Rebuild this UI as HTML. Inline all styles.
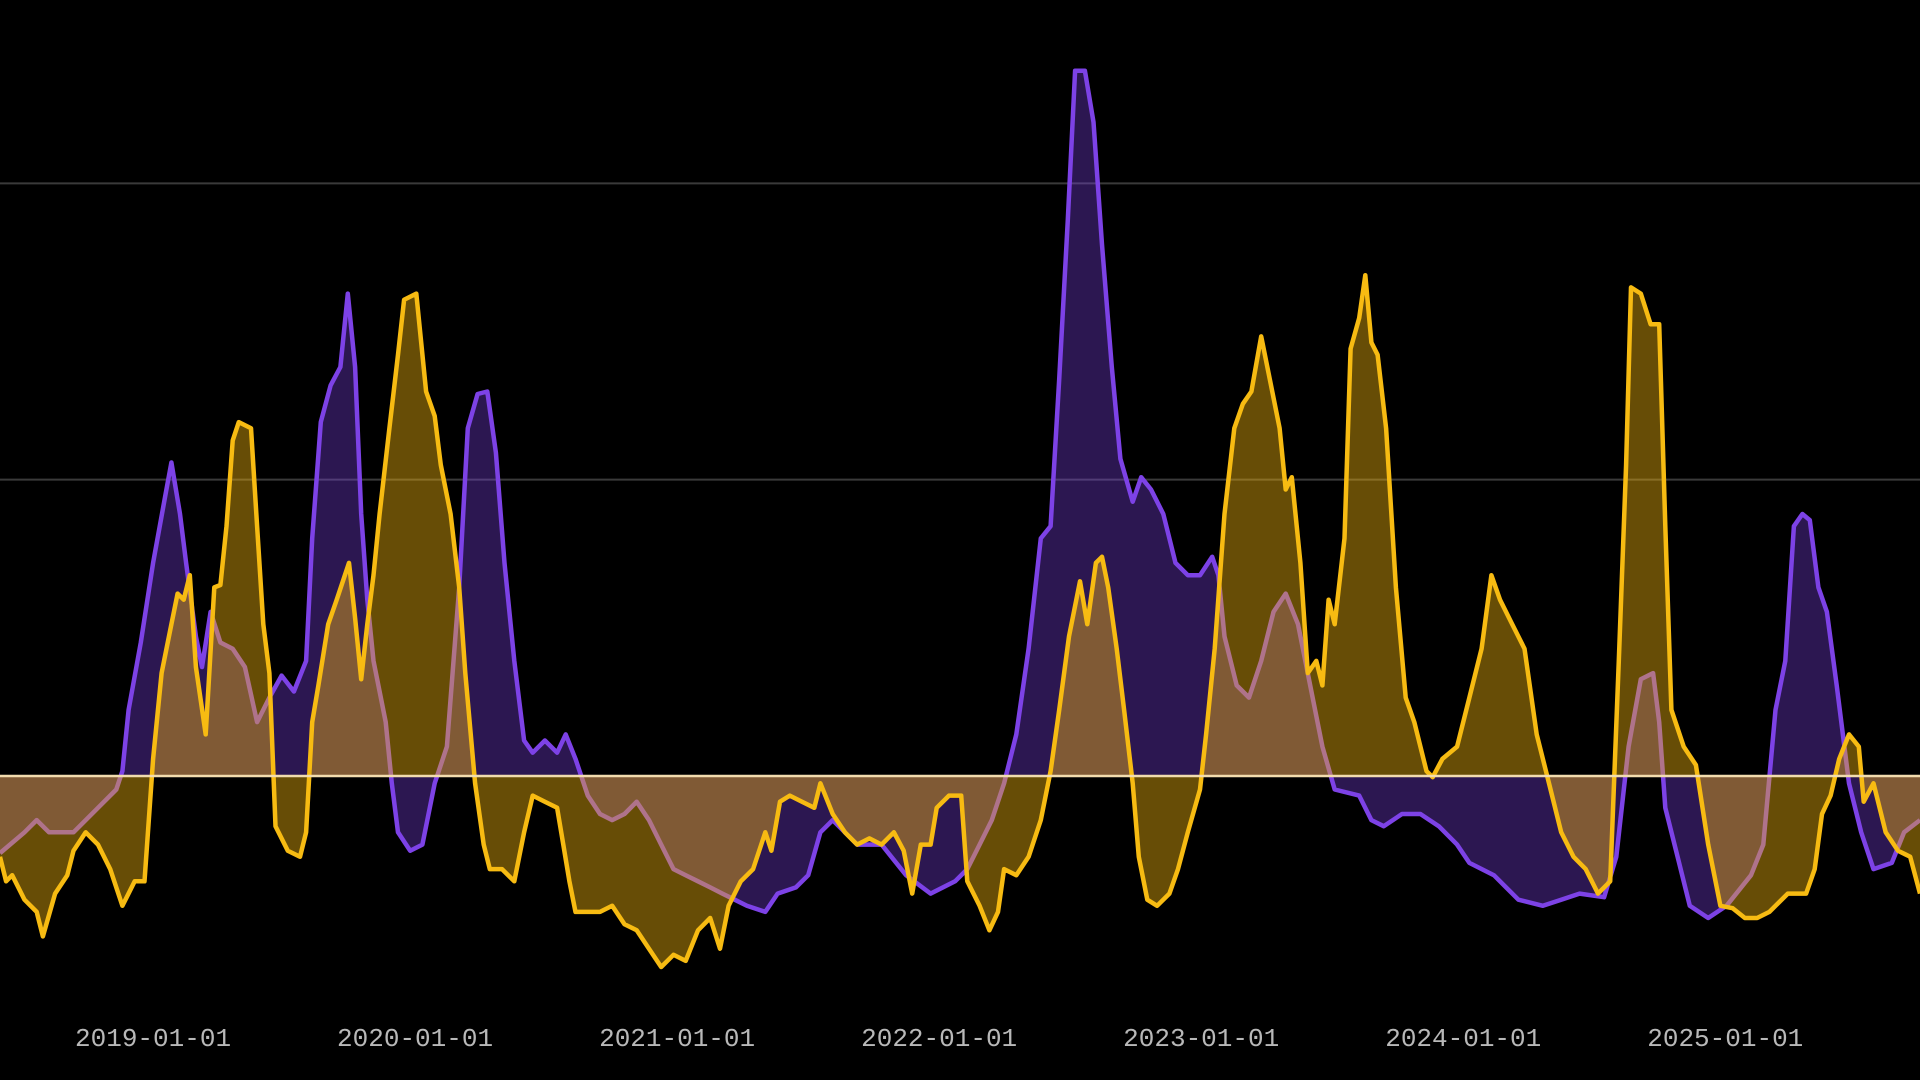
<!DOCTYPE html>
<html><head><meta charset="utf-8"><style>
html,body{margin:0;padding:0;background:#000;width:1920px;height:1080px;overflow:hidden}
svg{display:block}
text{font-family:"Liberation Mono","DejaVu Sans Mono",monospace;font-size:26px;fill:#b8b8b8}
</style></head><body>
<svg id="chart" width="1920" height="1080" viewBox="0 0 1920 1080"></svg>
<script>
// time index: units of 1/214 year starting at 2018.416
const T0 = 2018.416, UNITS_PER_YEAR = 214;
const tickLabels = ["2019-01-01","2020-01-01","2021-01-01","2022-01-01","2023-01-01","2024-01-01","2025-01-01"];
const tickYears = [2019,2020,2021,2022,2023,2024,2025];
const gridValues = [242, 484];
const purpleT = [0,20,30,40,60,80,95,100,105,115,125,135,140,147,152,160,165,172,180,190,200,210,220,230,240,250,255,262,270,278,284,290,295,300,305,315,320,325,335,345,355,365,375,382,390,398,405,412,420,428,435,445,455,462,470,480,490,500,510,520,530,540,550,560,570,580,590,600,610,625,635,650,660,670,680,690,700,720,740,760,780,790,800,810,820,830,840,850,858,865,872,878,886,893,900,908,915,925,932,940,950,960,970,980,990,995,1000,1010,1020,1030,1040,1050,1060,1070,1080,1090,1110,1120,1130,1145,1160,1175,1190,1200,1220,1240,1260,1275,1290,1310,1320,1330,1340,1350,1355,1360,1370,1380,1395,1410,1430,1440,1450,1458,1465,1472,1478,1485,1492,1500,1510,1520,1530,1545,1555,1568];
const purpleV = [-63,-46,-36,-46,-46,-26,-11,4,54,109,174,229,256,214,174,114,89,134,109,104,89,44,64,82,69,94,194,289,319,334,394,334,214,144,94,44,-6,-46,-61,-56,-6,24,154,284,312,314,264,174,94,29,19,29,19,34,14,-16,-31,-36,-31,-21,-36,-56,-76,-81,-86,-91,-96,-101,-106,-111,-96,-91,-81,-46,-36,-46,-56,-56,-81,-96,-86,-76,-56,-36,-6,34,104,194,204,324,454,576,576,534,434,334,259,224,244,234,214,174,164,164,179,164,114,74,64,94,134,149,124,74,24,-11,-16,-36,-41,-31,-31,-41,-56,-71,-81,-101,-106,-101,-96,-99,-66,24,79,84,44,-26,-66,-106,-116,-106,-81,-56,54,94,204,214,209,154,134,74,-6,-46,-76,-71,-46,-36];
const yellowT = [0,5,10,20,30,35,45,55,60,70,80,90,100,110,118,125,132,140,145,150,155,160,168,175,180,185,190,195,205,210,215,220,225,235,245,250,255,260,268,275,285,290,295,300,305,310,318,325,330,340,348,355,360,368,375,380,388,395,400,410,420,428,435,445,455,460,465,470,480,490,500,510,520,530,540,550,560,570,580,588,595,605,615,625,630,637,645,655,665,670,680,690,700,710,720,730,738,745,752,760,765,775,785,790,800,808,815,820,830,840,850,858,865,873,882,888,895,900,905,912,918,925,930,937,945,955,962,970,980,985,992,1000,1008,1015,1022,1030,1037,1045,1050,1055,1062,1068,1075,1080,1085,1090,1098,1103,1110,1115,1120,1125,1132,1140,1148,1155,1165,1170,1178,1190,1200,1210,1218,1225,1235,1245,1255,1265,1275,1285,1295,1305,1315,1322,1328,1332,1340,1348,1355,1360,1365,1375,1385,1395,1405,1415,1425,1435,1445,1460,1475,1482,1488,1495,1502,1510,1518,1522,1530,1540,1550,1560,1568];
const yellowV = [-66,-86,-81,-101,-111,-131,-96,-81,-61,-46,-56,-76,-106,-86,-86,14,84,124,149,144,164,89,34,154,156,204,274,289,284,204,124,84,-41,-61,-66,-46,44,74,124,144,174,129,79,124,164,214,284,344,389,394,314,294,254,214,154,84,-6,-56,-76,-76,-86,-46,-16,-21,-26,-56,-86,-111,-111,-111,-106,-121,-126,-141,-156,-146,-151,-126,-116,-141,-106,-86,-76,-46,-61,-21,-16,-21,-26,-6,-31,-46,-56,-51,-56,-46,-61,-96,-56,-56,-26,-16,-16,-86,-106,-126,-111,-76,-81,-66,-36,4,54,114,159,124,174,179,154,104,54,-6,-66,-101,-106,-96,-76,-46,-11,34,104,214,284,304,314,359,324,284,234,244,174,84,94,74,144,124,194,349,374,409,354,344,284,154,64,44,4,-1,14,24,64,104,164,144,124,104,34,-6,-46,-66,-76,-96,-86,94,254,399,394,369,369,204,54,24,9,-56,-106,-108,-116,-116,-111,-96,-96,-76,-31,-16,14,34,24,-21,-6,-46,-61,-66,-96];

const NS = "http://www.w3.org/2000/svg";
const svg = document.getElementById("chart");
const K = 1920 / 1568;
const xScale = t => t * K;
const yearX = y => xScale((y - T0) * UNITS_PER_YEAR);
const BASE = 776;
const yScale = v => BASE - v * K;

function mk(tag, attrs) {
  const e = document.createElementNS(NS, tag);
  for (const k in attrs) e.setAttribute(k, attrs[k]);
  svg.appendChild(e);
  return e;
}

gridValues.forEach(g => {
  const l = mk("line", {x1: 0, x2: 1920, y1: yScale(g), y2: yScale(g), stroke: "#3a3a3a", "stroke-width": 2});
  
  
});

function series(T, V, fill, stroke, name) {
  const pts = T.map((t, i) => xScale(t).toFixed(1) + "," + yScale(V[i]).toFixed(1));
  const area = mk("path", {d: "M" + xScale(T[0]) + "," + BASE + " L" + pts.join(" L") + " L" + xScale(T[T.length - 1]) + "," + BASE + " Z", fill: fill, stroke: "none"});
  
  
  const line = mk("path", {d: "M" + pts.join(" L"), fill: "none", stroke: stroke, "stroke-width": 4.5, "stroke-linejoin": "round"});
  
  
}
series(purpleT, purpleV, "rgba(123,63,224,0.36)", "#7d42e6", "purple-series");
series(yellowT, yellowV, "rgba(245,184,15,0.42)", "#f7bb12", "yellow-series");

const base = mk("line", {x1: 0, x2: 1920, y1: BASE, y2: BASE, stroke: "#f2dcae", "stroke-width": 2.5});



tickLabels.forEach((lab, i) => {
  const t = mk("text", {x: yearX(tickYears[i]), y: 1046, "text-anchor": "middle"});
  t.textContent = lab;
  
  
});
</script>
</body></html>
